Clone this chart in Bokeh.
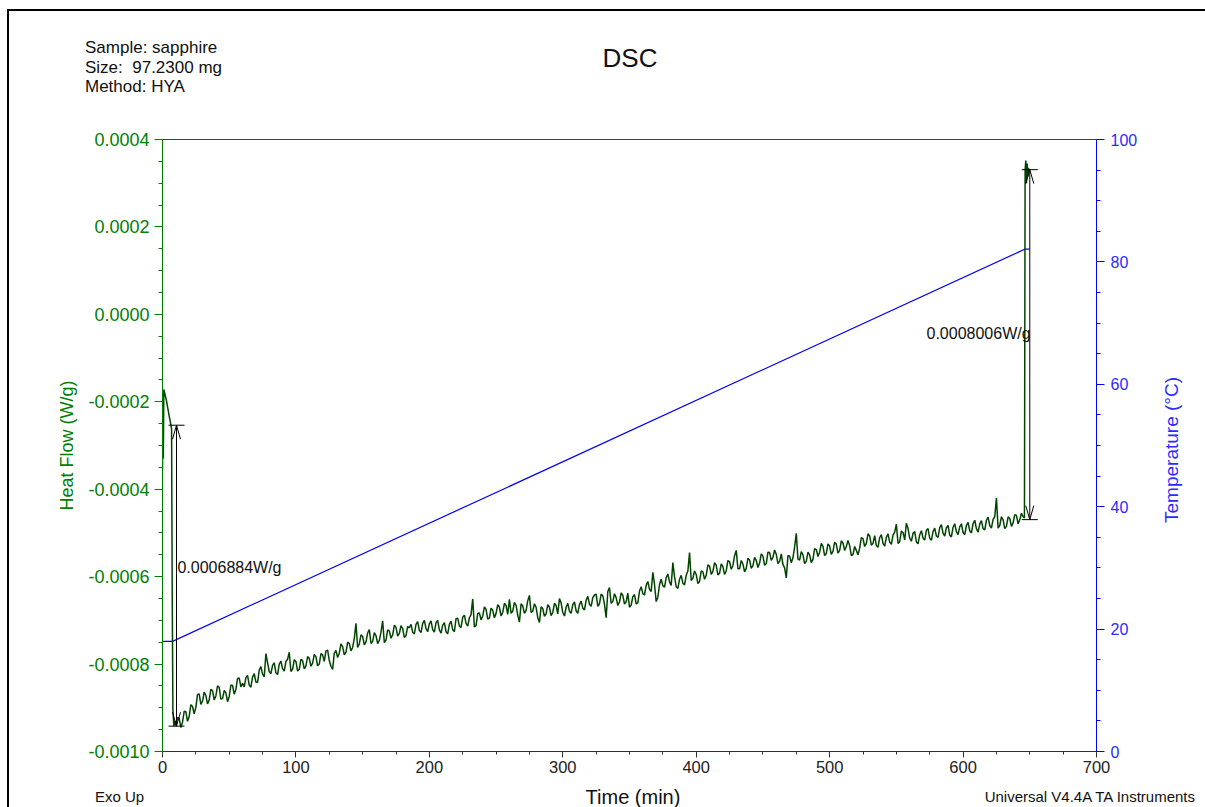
from bokeh.plotting import figure
from bokeh.models import Range1d, LinearAxis, FixedTicker, Label, Div
from bokeh.layouts import column, row
from bokeh.embed import file_html
from bokeh.resources import INLINE

# ---------------- data ----------------
start_time_min = [0.0, 0.3, 0.6, 1.0, 1.5, 2.0, 3.0, 4.0, 5.0, 6.0, 6.8, 7.3, 7.8, 8.5, 9.2]
start_heat_flow = [-0.000353, -0.000190, -0.000330, -0.000172, -0.000178, -0.000185, -0.000198,
                   -0.000215, -0.000232, -0.000248, -0.000262, -0.000650, -0.000905, -0.000942,
                   -0.000930]

scan_time_min = [
    10, 12.5, 15, 17.5, 20, 22.5, 25, 27.5, 30, 32.5,
    35, 37.5, 40, 42.5, 45, 47.5, 50, 52.5, 55, 57.5,
    60, 62.5, 65, 67.5, 70, 72.5, 75, 77.5, 80, 82.5,
    85, 87.5, 90, 92.5, 95, 97.5, 100, 102.5, 105, 107.5,
    110, 112.5, 115, 117.5, 120, 122.5, 125, 127.5, 130, 132.5,
    135, 137.5, 140, 142.5, 145, 147.5, 150, 152.5, 155, 157.5,
    160, 162.5, 165, 167.5, 170, 172.5, 175, 177.5, 180, 182.5,
    185, 187.5, 190, 192.5, 195, 197.5, 200, 202.5, 205, 207.5,
    210, 212.5, 215, 217.5, 220, 222.5, 225, 227.5, 230, 232.5,
    235, 237.5, 240, 242.5, 245, 247.5, 250, 252.5, 255, 257.5,
    260, 262.5, 265, 267.5, 270, 272.5, 275, 277.5, 280, 282.5,
    285, 287.5, 290, 292.5, 295, 297.5, 300, 302.5, 305, 307.5,
    310, 312.5, 315, 317.5, 320, 322.5, 325, 327.5, 330, 332.5,
    335, 337.5, 340, 342.5, 345, 347.5, 350, 352.5, 355, 357.5,
    360, 362.5, 365, 367.5, 370, 372.5, 375, 377.5, 380, 382.5,
    385, 387.5, 390, 392.5, 395, 397.5, 400, 402.5, 405, 407.5,
    410, 412.5, 415, 417.5, 420, 422.5, 425, 427.5, 430, 432.5,
    435, 437.5, 440, 442.5, 445, 447.5, 450, 452.5, 455, 457.5,
    460, 462.5, 465, 467.5, 470, 472.5, 475, 477.5, 480, 482.5,
    485, 487.5, 490, 492.5, 495, 497.5, 500, 502.5, 505, 507.5,
    510, 512.5, 515, 517.5, 520, 522.5, 525, 527.5, 530, 532.5,
    535, 537.5, 540, 542.5, 545, 547.5, 550, 552.5, 555, 557.5,
    560, 562.5, 565, 567.5, 570, 572.5, 575, 577.5, 580, 582.5,
    585, 587.5, 590, 592.5, 595, 597.5, 600, 602.5, 605, 607.5,
    610, 612.5, 615, 617.5, 620, 622.5, 625, 627.5, 630, 632.5,
    635, 637.5, 640, 642.5, 645,
]
scan_heat_flow = [
    -0.000941, -0.000924, -0.000933, -0.000909, -0.000920, -0.000897, -0.000899, -0.000868, -0.000885, -0.000872,
    -0.000882, -0.000861, -0.000873, -0.000853, -0.000879, -0.000866, -0.000874, -0.000849, -0.000858, -0.000832,
    -0.000844, -0.000831, -0.000848, -0.000830, -0.000841, -0.000814, -0.000823, -0.000776, -0.000817, -0.000803,
    -0.000820, -0.000800, -0.000811, -0.000794, -0.000773, -0.000812, -0.000794, -0.000812, -0.000792, -0.000804,
    -0.000787, -0.000798, -0.000783, -0.000800, -0.000779, -0.000770, -0.000792, -0.000812, -0.000769, -0.000775,
    -0.000760, -0.000773, -0.000753, -0.000762, -0.000707, -0.000754, -0.000737, -0.000749, -0.000721, -0.000748,
    -0.000735, -0.000746, -0.000701, -0.000745, -0.000724, -0.000733, -0.000716, -0.000730, -0.000719, -0.000735,
    -0.000717, -0.000727, -0.000709, -0.000723, -0.000707, -0.000719, -0.000708, -0.000721, -0.000705, -0.000722,
    -0.000711, -0.000726, -0.000709, -0.000721, -0.000696, -0.000713, -0.000693, -0.000707, -0.000694, -0.000651,
    -0.000712, -0.000683, -0.000690, -0.000675, -0.000695, -0.000677, -0.000684, -0.000670, -0.000682, -0.000666,
    -0.000652, -0.000679, -0.000666, -0.000704, -0.000667, -0.000677, -0.000643, -0.000679, -0.000670, -0.000705,
    -0.000673, -0.000685, -0.000670, -0.000682, -0.000666, -0.000650, -0.000682, -0.000670, -0.000679, -0.000664,
    -0.000678, -0.000664, -0.000672, -0.000654, -0.000663, -0.000648, -0.000640, -0.000662, -0.000644, -0.000694,
    -0.000625, -0.000657, -0.000648, -0.000658, -0.000643, -0.000657, -0.000670, -0.000646, -0.000662, -0.000633,
    -0.000639, -0.000620, -0.000629, -0.000590, -0.000657, -0.000618, -0.000621, -0.000602, -0.000612, -0.000568,
    -0.000623, -0.000606, -0.000615, -0.000597, -0.000545, -0.000604, -0.000595, -0.000611, -0.000589, -0.000597,
    -0.000576, -0.000588, -0.000574, -0.000592, -0.000577, -0.000587, -0.000566, -0.000575, -0.000540, -0.000582,
    -0.000571, -0.000581, -0.000562, -0.000575, -0.000563, -0.000569, -0.000553, -0.000570, -0.000545, -0.000556,
    -0.000549, -0.000565, -0.000572, -0.000603, -0.000553, -0.000557, -0.000501, -0.000562, -0.000550, -0.000565,
    -0.000550, -0.000560, -0.000538, -0.000544, -0.000531, -0.000547, -0.000530, -0.000542, -0.000526, -0.000540,
    -0.000523, -0.000531, -0.000529, -0.000549, -0.000540, -0.000535, -0.000513, -0.000524, -0.000507, -0.000524,
    -0.000529, -0.000511, -0.000524, -0.000510, -0.000521, -0.000505, -0.000480, -0.000520, -0.000499, -0.000478,
    -0.000512, -0.000501, -0.000520, -0.000504, -0.000512, -0.000494, -0.000512, -0.000497, -0.000507, -0.000488,
    -0.000501, -0.000488, -0.000505, -0.000487, -0.000497, -0.000486, -0.000499, -0.000483, -0.000495, -0.000479,
    -0.000490, -0.000480, -0.000490, -0.000471, -0.000483, -0.000469, -0.000420, -0.000483, -0.000470, -0.000485,
    -0.000467, -0.000477, -0.000460, -0.000470, -0.000463,
]

# readings taken between the samples above (noise band of the signal)
mid_time_min = [
    11.25, 13.75, 16.25, 18.75, 21.25, 23.75, 26.25, 28.75, 31.25, 33.75,
    36.25, 38.75, 41.25, 43.75, 46.25, 48.75, 51.25, 53.75, 56.25, 58.75,
    61.25, 63.75, 66.25, 68.75, 71.25, 73.75, 76.25, 78.75, 81.25, 83.75,
    86.25, 88.75, 91.25, 93.75, 96.25, 98.75, 101.25, 103.75, 106.25, 108.75,
    111.25, 113.75, 116.25, 118.75, 121.25, 123.75, 126.25, 128.75, 131.25, 133.75,
    136.25, 138.75, 141.25, 143.75, 146.25, 148.75, 151.25, 153.75, 156.25, 158.75,
    161.25, 163.75, 166.25, 168.75, 171.25, 173.75, 176.25, 178.75, 181.25, 183.75,
    186.25, 188.75, 191.25, 193.75, 196.25, 198.75, 201.25, 203.75, 206.25, 208.75,
    211.25, 213.75, 216.25, 218.75, 221.25, 223.75, 226.25, 228.75, 231.25, 233.75,
    236.25, 238.75, 241.25, 243.75, 246.25, 248.75, 251.25, 253.75, 256.25, 258.75,
    261.25, 263.75, 266.25, 268.75, 271.25, 273.75, 276.25, 278.75, 281.25, 283.75,
    286.25, 288.75, 291.25, 293.75, 296.25, 298.75, 301.25, 303.75, 306.25, 308.75,
    311.25, 313.75, 316.25, 318.75, 321.25, 323.75, 326.25, 328.75, 331.25, 333.75,
    336.25, 338.75, 341.25, 343.75, 346.25, 348.75, 351.25, 353.75, 356.25, 358.75,
    361.25, 363.75, 366.25, 368.75, 371.25, 373.75, 376.25, 378.75, 381.25, 383.75,
    386.25, 388.75, 391.25, 393.75, 396.25, 398.75, 401.25, 403.75, 406.25, 408.75,
    411.25, 413.75, 416.25, 418.75, 421.25, 423.75, 426.25, 428.75, 431.25, 433.75,
    436.25, 438.75, 441.25, 443.75, 446.25, 448.75, 451.25, 453.75, 456.25, 458.75,
    461.25, 463.75, 466.25, 468.75, 471.25, 473.75, 476.25, 478.75, 481.25, 483.75,
    486.25, 488.75, 491.25, 493.75, 496.25, 498.75, 501.25, 503.75, 506.25, 508.75,
    511.25, 513.75, 516.25, 518.75, 521.25, 523.75, 526.25, 528.75, 531.25, 533.75,
    536.25, 538.75, 541.25, 543.75, 546.25, 548.75, 551.25, 553.75, 556.25, 558.75,
    561.25, 563.75, 566.25, 568.75, 571.25, 573.75, 576.25, 578.75, 581.25, 583.75,
    586.25, 588.75, 591.25, 593.75, 596.25, 598.75, 601.25, 603.75, 606.25, 608.75,
    611.25, 613.75, 616.25, 618.75, 621.25, 623.75, 626.25, 628.75, 631.25, 633.75,
    636.25, 638.75, 641.25, 643.75,
]
mid_heat_flow = [
    -0.000922, -0.000945, -0.000908, -0.000931, -0.000893, -0.000914, -0.000870, -0.000892, -0.000864, -0.000891,
    -0.000858, -0.000882, -0.000850, -0.000880, -0.000860, -0.000886, -0.000848, -0.000869, -0.000833, -0.000852,
    -0.000852, -0.000826, -0.000853, -0.000822, -0.000842, -0.000806, -0.000829, -0.000797, -0.000822, -0.000797,
    -0.000824, -0.000793, -0.000816, -0.000789, -0.000817, -0.000790, -0.000816, -0.000789, -0.000811, -0.000783,
    -0.000805, -0.000778, -0.000804, -0.000776, -0.000794, -0.000768, -0.000805, -0.000775, -0.000785, -0.000754,
    -0.000779, -0.000750, -0.000770, -0.000741, -0.000762, -0.000733, -0.000756, -0.000729, -0.000753, -0.000728,
    -0.000753, -0.000727, -0.000751, -0.000722, -0.000741, -0.000711, -0.000736, -0.000712, -0.000739, -0.000714,
    -0.000709, -0.000731, -0.000703, -0.000728, -0.000700, -0.000726, -0.000701, -0.000727, -0.000700, -0.000729,
    -0.000705, -0.000731, -0.000702, -0.000726, -0.000695, -0.000716, -0.000688, -0.000713, -0.000687, -0.000715,
    -0.000684, -0.000699, -0.000669, -0.000697, -0.000672, -0.000694, -0.000664, -0.000690, -0.000661, -0.000686,
    -0.000684, -0.000659, -0.000688, -0.000662, -0.000684, -0.000655, -0.000682, -0.000662, -0.000694, -0.000669,
    -0.000691, -0.000664, -0.000689, -0.000661, -0.000685, -0.000660, -0.000690, -0.000661, -0.000684, -0.000658,
    -0.000684, -0.000656, -0.000676, -0.000645, -0.000668, -0.000642, -0.000668, -0.000640, -0.000663, -0.000634,
    -0.000661, -0.000639, -0.000666, -0.000637, -0.000663, -0.000638, -0.000665, -0.000641, -0.000660, -0.000623,
    -0.000642, -0.000611, -0.000634, -0.000618, -0.000647, -0.000606, -0.000624, -0.000594, -0.000620, -0.000600,
    -0.000627, -0.000597, -0.000619, -0.000587, -0.000609, -0.000587, -0.000616, -0.000587, -0.000606, -0.000573,
    -0.000595, -0.000568, -0.000596, -0.000571, -0.000595, -0.000563, -0.000583, -0.000552, -0.000582, -0.000563,
    -0.000589, -0.000558, -0.000581, -0.000556, -0.000579, -0.000548, -0.000574, -0.000544, -0.000563, -0.000539,
    -0.000570, -0.000548, -0.000580, -0.000552, -0.000568, -0.000532, -0.000560, -0.000543, -0.000570, -0.000544,
    -0.000568, -0.000536, -0.000554, -0.000524, -0.000552, -0.000525, -0.000549, -0.000521, -0.000546, -0.000518,
    -0.000540, -0.000517, -0.000552, -0.000531, -0.000550, -0.000511, -0.000531, -0.000502, -0.000528, -0.000506,
    -0.000533, -0.000504, -0.000530, -0.000502, -0.000526, -0.000498, -0.000524, -0.000496, -0.000516, -0.000490,
    -0.000519, -0.000497, -0.000525, -0.000495, -0.000516, -0.000490, -0.000517, -0.000489, -0.000510, -0.000481,
    -0.000507, -0.000483, -0.000509, -0.000479, -0.000504, -0.000479, -0.000504, -0.000476, -0.000500, -0.000471,
    -0.000498, -0.000472, -0.000493, -0.000464, -0.000489, -0.000463, -0.000489, -0.000463, -0.000490, -0.000463,
    -0.000485, -0.000458, -0.000479, -0.000455,
]

end_time_min = [646.0, 646.5, 647.0, 647.5, 648.0, 648.5, 649.0, 649.5]
end_heat_flow = [-0.000466, 0.000330, 0.000352, 0.000300, 0.000345, 0.000315, 0.000335, 0.000325]

temp_time_min = [0.0, 7.5, 646.5, 650.0]
temp_c = [18.0, 18.0, 82.1, 82.1]

step_time_min = [10.5, 650.0]
step_top = [-0.0002536, 0.0003310]
step_bottom = [-0.0009420, -0.0004696]
step_labels = ["0.0006884W/g", "0.0008006W/g"]

x_ticks = [0, 100, 200, 300, 400, 500, 600, 700]
x_tick_labels = ["0", "100", "200", "300", "400", "500", "600", "700"]
hf_ticks = [-0.0010, -0.0008, -0.0006, -0.0004, -0.0002, 0.0, 0.0002, 0.0004]
hf_tick_labels = ["-0.0010", "-0.0008", "-0.0006", "-0.0004", "-0.0002", "0.0000", "0.0002", "0.0004"]
temp_ticks = [0, 20, 40, 60, 80, 100]
temp_tick_labels = ["0", "20", "40", "60", "80", "100"]

info_lines = ["Sample: sapphire", "Size:  97.2300 mg", "Method: HYA"]
title_text = "DSC"
x_label = "Time (min)"
temp_label = "Temperature (°C)"
footer_left = "Exo Up"
footer_right = "Universal V4.4A TA Instruments"

# ---------------- styling ----------------
FONT = "Liberation Sans"
GREEN = "#008000"
CURVE = "#004400"
BLUE = "#0000ff"
BLUE_TXT = "#2b2bff"

STRIP_W = 9          # strip carrying the left edge of the report frame
HEADER_H = 120
FIG_H = 661
FOOT_H = 26
FRAME_RIGHT = 1096
FIG_RIGHT = 1141     # page x where the figure ends (after the temperature tick labels)
FIG_W = FIG_RIGHT - STRIP_W
SIDE_W = 1197 - FIG_RIGHT

p = figure(width=FIG_W, height=FIG_H, output_backend="svg", toolbar_location=None,
           x_range=Range1d(0, 700), y_range=Range1d(-0.0010, 0.0004),
           min_border_left=162 - STRIP_W, min_border_right=FIG_RIGHT - FRAME_RIGHT,
           min_border_top=139 - HEADER_H, min_border_bottom=30)
p.extra_y_ranges = {"temp": Range1d(0, 100)}
p.background_fill_color = "white"
p.border_fill_color = "white"
p.outline_line_color = "#404040"
p.xgrid.visible = False
p.ygrid.visible = False

xa = p.xaxis[0]
xa.ticker = FixedTicker(ticks=x_ticks, minor_ticks=list(range(0, 701, 25)))
xa.major_label_overrides = {t: l for t, l in zip(x_ticks, x_tick_labels)}
xa.axis_line_color = "#303030"
xa.major_tick_line_color = "#303030"
xa.minor_tick_line_color = "#303030"
xa.major_tick_out = 6
xa.major_tick_in = 0
xa.minor_tick_out = 3
xa.minor_tick_in = 0
xa.major_label_standoff = 3
xa.major_label_text_font = FONT
xa.major_label_text_font_size = "16.5px"
xa.major_label_text_color = "#222222"

ya = p.yaxis[0]
ya.ticker = FixedTicker(ticks=hf_ticks, minor_ticks=[-0.0010 + 0.00005 * i for i in range(29)])
ya.major_label_overrides = {t: l for t, l in zip(hf_ticks, hf_tick_labels)}
ya.axis_line_color = GREEN
ya.major_tick_line_color = GREEN
ya.minor_tick_line_color = GREEN
ya.major_tick_out = 8
ya.major_tick_in = 0
ya.minor_tick_out = 4
ya.minor_tick_in = 0
ya.major_label_standoff = 5
ya.major_label_text_font = FONT
ya.major_label_text_font_size = "18px"
ya.major_label_text_color = GREEN
ya.axis_label = "Heat Flow (W/g)"
ya.axis_label_text_font = FONT
ya.axis_label_text_font_size = "18px"
ya.axis_label_text_font_style = "normal"
ya.axis_label_text_color = GREEN
ya.axis_label_standoff = 8

ra = LinearAxis(y_range_name="temp",
                ticker=FixedTicker(ticks=temp_ticks, minor_ticks=list(range(0, 101, 5))))
ra.major_label_overrides = {t: l for t, l in zip(temp_ticks, temp_tick_labels)}
ra.axis_line_color = BLUE
ra.major_tick_line_color = BLUE
ra.minor_tick_line_color = BLUE
ra.major_tick_out = 8
ra.major_tick_in = 0
ra.minor_tick_out = 4
ra.minor_tick_in = 0
ra.major_label_standoff = 6
ra.major_label_text_font = FONT
ra.major_label_text_font_size = "16px"
ra.major_label_text_color = BLUE_TXT
p.add_layout(ra, "right")

# curves
p.line(temp_time_min, temp_c, y_range_name="temp", line_color=BLUE, line_width=1.2)
scan = sorted(zip(scan_time_min + mid_time_min, scan_heat_flow + mid_heat_flow))
p.line(start_time_min + [s[0] for s in scan] + end_time_min,
       start_heat_flow + [s[1] for s in scan] + end_heat_flow,
       line_color=CURVE, line_width=1.5)

# step annotations
half_w = 6.0
p.segment(x0=step_time_min, y0=step_bottom, x1=step_time_min, y1=step_top,
          line_color="black", line_width=1)
p.segment(x0=[t - half_w for t in step_time_min], y0=step_top,
          x1=[t + half_w for t in step_time_min], y1=step_top, line_color="black", line_width=1)
p.segment(x0=[t - half_w for t in step_time_min], y0=step_bottom,
          x1=[t + half_w for t in step_time_min], y1=step_bottom, line_color="black", line_width=1)
ah_w, ah_h = 3.0, 0.000032
p.multi_line(xs=[[t - ah_w, t, t + ah_w] for t in step_time_min],
             ys=[[y - ah_h, y, y - ah_h] for y in step_top], line_color="black", line_width=1)
p.multi_line(xs=[[t - ah_w, t, t + ah_w] for t in step_time_min],
             ys=[[y + ah_h, y, y + ah_h] for y in step_bottom], line_color="black", line_width=1)

p.add_layout(Label(x=11.2, y=-0.000579, text=step_labels[0], text_align="left",
                   text_baseline="middle", text_font=FONT, text_font_size="16px",
                   text_color="#111111"))
p.add_layout(Label(x=650.6, y=-0.0000435, text=step_labels[1], text_align="right",
                   text_baseline="middle", text_font=FONT, text_font_size="16px",
                   text_color="#111111"))

# ---------------- header / footer / side (report page texts) ----------------
base = "position:absolute;font-family:'Liberation Sans',Arial,sans-serif;color:#111;white-space:pre;"
header_html = (
    f'<div style="position:relative;width:1197px;height:{HEADER_H}px;overflow:visible;">'
    f'<div style="position:absolute;left:7px;top:9px;width:1198px;height:0;border-top:2px solid #000;"></div>'
    f'<div style="position:absolute;left:7px;top:9px;width:0;height:{HEADER_H - 9}px;border-left:2px solid #000;"></div>'
    f'<div style="{base}left:85px;top:38px;font-size:17px;line-height:19.5px;">'
    + "<br>".join(info_lines) +
    '</div>'
    f'<div style="{base}left:530px;top:43px;width:200px;text-align:center;font-size:26px;line-height:30px;">{title_text}</div>'
    '</div>'
)
header = Div(text=header_html, width=1197, height=HEADER_H, margin=(0, 0, 0, 0))

strip_html = (f'<div style="position:relative;width:{STRIP_W}px;height:{FIG_H}px;">'
              f'<div style="position:absolute;left:7px;top:0;width:0;height:{FIG_H}px;border-left:2px solid #000;"></div></div>')
strip = Div(text=strip_html, width=STRIP_W, height=FIG_H, margin=(0, 0, 0, 0))

side_html = (
    f'<div style="position:relative;width:{SIDE_W}px;height:{FIG_H}px;">'
    f'<div style="{base}left:{1172 - FIG_RIGHT}px;top:{450 - HEADER_H}px;color:{BLUE_TXT};font-size:19px;'
    f'line-height:22px;transform:translate(-50%,-50%) rotate(-90deg);">{temp_label}</div>'
    '</div>'
)
side = Div(text=side_html, width=SIDE_W, height=FIG_H, margin=(0, 0, 0, 0))

footer_html = (
    f'<div style="position:relative;width:1197px;height:{FOOT_H}px;">'
    f'<div style="position:absolute;left:7px;top:0;width:0;height:{FOOT_H}px;border-left:2px solid #000;"></div>'
    f'<div style="{base}left:95px;top:7px;font-size:15px;line-height:18px;">{footer_left}</div>'
    f'<div style="{base}left:533px;top:5px;width:200px;text-align:center;font-size:20px;line-height:22px;">{x_label}</div>'
    f'<div style="{base}left:845px;top:7px;width:350px;text-align:right;font-size:15px;line-height:18px;">{footer_right}</div>'
    '</div>'
)
footer = Div(text=footer_html, width=1197, height=FOOT_H, margin=(0, 0, 0, 0))

page = column(header, row(strip, p, side, spacing=0), footer, spacing=0)

open("out.html", "w").write(file_html(page, INLINE))
